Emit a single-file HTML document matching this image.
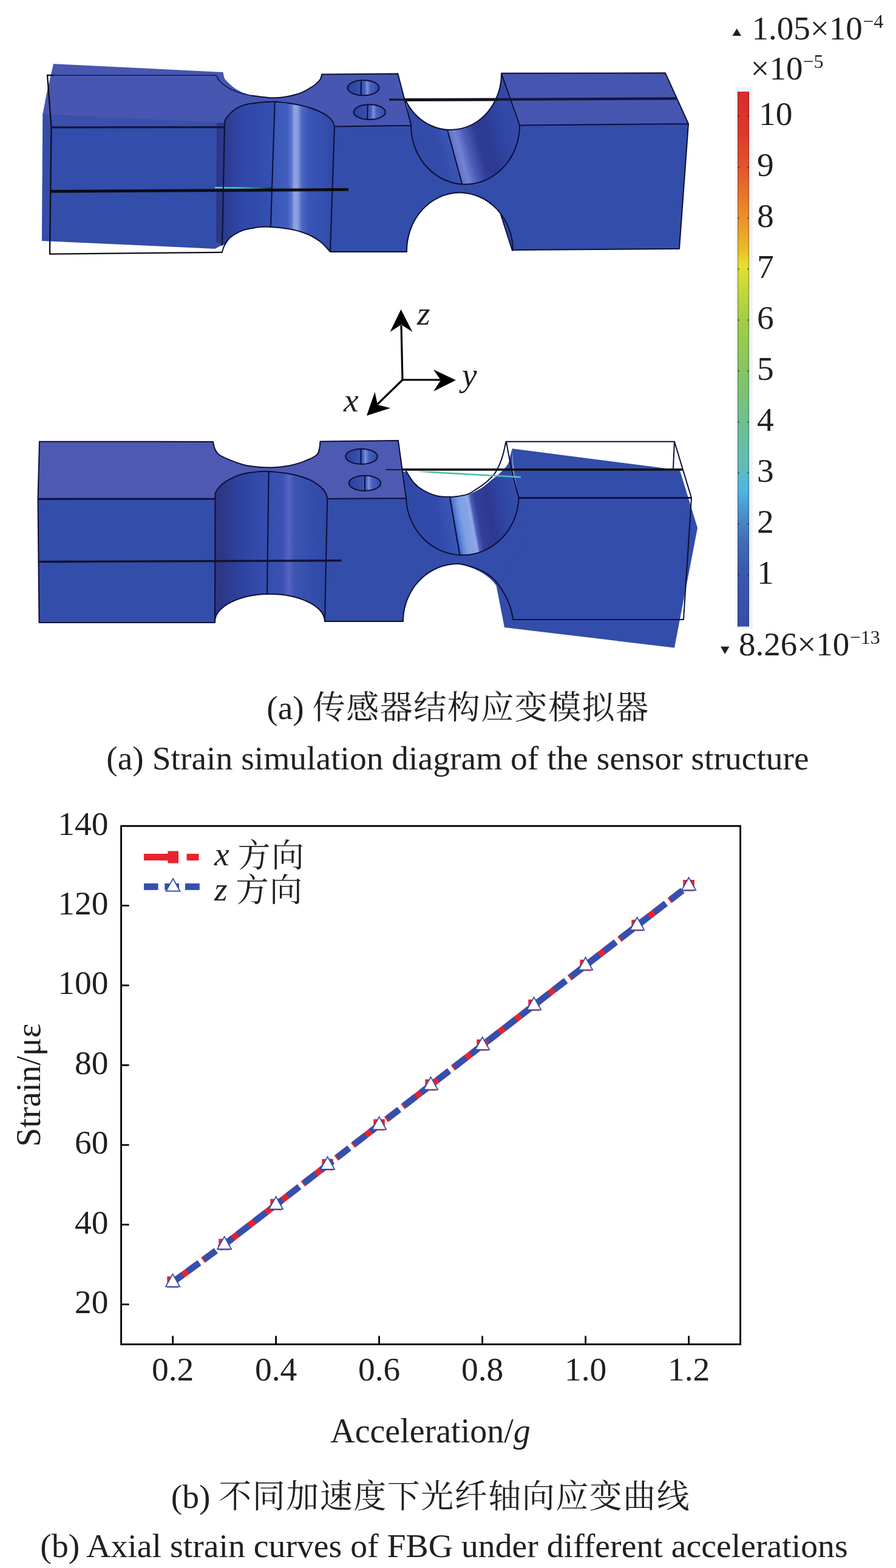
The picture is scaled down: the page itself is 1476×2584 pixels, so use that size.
<!DOCTYPE html>
<html lang="zh">
<head>
<meta charset="utf-8">
<title>Strain simulation and axial strain curves</title>
<style>
html,body{margin:0;padding:0;background:#fff}
body{width:1476px;height:2584px;overflow:hidden}
svg{display:block}
text{font-family:"Liberation Serif","Noto Serif CJK SC",serif;font-size:55.5px;fill:#231f20}
.it{font-style:italic}
.sup{font-size:32px}
.cjk{font-size:54px;letter-spacing:1.5px}
.e{fill:none;stroke:#0c0f36;stroke-width:2;stroke-linecap:round;stroke-linejoin:round}
</style>
</head>
<body>
<svg width="1476" height="2584" viewBox="0 0 1476 2584">
<defs>
<linearGradient id="cylA" gradientUnits="userSpaceOnUse" x1="356" y1="0" x2="552" y2="0">
<stop offset="0" stop-color="#2c3684"/>
<stop offset="0.07" stop-color="#2d3a90"/>
<stop offset="0.2" stop-color="#3046a6"/>
<stop offset="0.49" stop-color="#3451b1"/>
</linearGradient>
<linearGradient id="cylA2" gradientUnits="userSpaceOnUse" x1="356" y1="0" x2="552" y2="0">
<stop offset="0.49" stop-color="#3a57b7"/>
<stop offset="0.60" stop-color="#415fbe"/>
<stop offset="0.635" stop-color="#5a76cd"/>
<stop offset="0.655" stop-color="#8ea2e3"/>
<stop offset="0.685" stop-color="#8a9fe1"/>
<stop offset="0.72" stop-color="#4c68c3"/>
<stop offset="0.78" stop-color="#3855b5"/>
<stop offset="0.9" stop-color="#3450b0"/>
<stop offset="1" stop-color="#2f47a4"/>
</linearGradient>
<linearGradient id="cylB" gradientUnits="userSpaceOnUse" x1="690" y1="260" x2="863.7" y2="212.8">
<stop offset="0" stop-color="#324aa9"/>
<stop offset="0.2" stop-color="#334caa"/>
<stop offset="0.31" stop-color="#3a56b6"/>
<stop offset="0.33" stop-color="#6474cb"/>
<stop offset="0.38" stop-color="#7482d2"/>
<stop offset="0.46" stop-color="#4a5cb8"/>
<stop offset="0.56" stop-color="#2f3c94"/>
<stop offset="0.66" stop-color="#2d3a92"/>
<stop offset="0.8" stop-color="#3046a5"/>
<stop offset="1" stop-color="#344cab"/>
</linearGradient>
<linearGradient id="holeA" x1="0" y1="0" x2="1" y2="0">
<stop offset="0" stop-color="#2f3f9c"/>
<stop offset="0.42" stop-color="#3651b2"/>
<stop offset="0.55" stop-color="#4560be"/>
<stop offset="0.62" stop-color="#7f90da"/>
<stop offset="0.72" stop-color="#4a62be"/>
<stop offset="1" stop-color="#3049a8"/>
</linearGradient>
<linearGradient id="cylC" gradientUnits="userSpaceOnUse" x1="354" y1="0" x2="540" y2="0">
<stop offset="0" stop-color="#2d3580"/>
<stop offset="0.08" stop-color="#2d388a"/>
<stop offset="0.22" stop-color="#2f42a0"/>
<stop offset="0.4" stop-color="#334cad"/>
<stop offset="0.6" stop-color="#3a52b2"/>
<stop offset="0.655" stop-color="#5a64c1"/>
<stop offset="0.7" stop-color="#3e55b3"/>
<stop offset="0.85" stop-color="#334eac"/>
<stop offset="1" stop-color="#3049a6"/>
</linearGradient>
<linearGradient id="cylD" gradientUnits="userSpaceOnUse" x1="680" y1="880" x2="857" y2="848">
<stop offset="0" stop-color="#3048a8"/>
<stop offset="0.25" stop-color="#324aaa"/>
<stop offset="0.37" stop-color="#3856b6"/>
<stop offset="0.40" stop-color="#3a5cbc"/>
<stop offset="0.405" stop-color="#4a6ed0"/>
<stop offset="0.43" stop-color="#6288dc"/>
<stop offset="0.47" stop-color="#7e9fe3"/>
<stop offset="0.525" stop-color="#84a4e6"/>
<stop offset="0.555" stop-color="#94aae8"/>
<stop offset="0.58" stop-color="#4a5cb8"/>
<stop offset="0.62" stop-color="#323f9a"/>
<stop offset="0.73" stop-color="#2d3890"/>
<stop offset="0.86" stop-color="#3046a4"/>
<stop offset="1" stop-color="#344cab"/>
</linearGradient>
<linearGradient id="cbar" x1="0" y1="0" x2="0" y2="1">
<stop offset="0" stop-color="#dc2a2a"/>
<stop offset="0.08" stop-color="#de3a2a"/>
<stop offset="0.142" stop-color="#e3552b"/>
<stop offset="0.237" stop-color="#ec9128"/>
<stop offset="0.29" stop-color="#eab82a"/>
<stop offset="0.325" stop-color="#e6e030"/>
<stop offset="0.37" stop-color="#c4d838"/>
<stop offset="0.425" stop-color="#a4ce44"/>
<stop offset="0.52" stop-color="#86c660"/>
<stop offset="0.62" stop-color="#6cc090"/>
<stop offset="0.70" stop-color="#60bcb8"/>
<stop offset="0.745" stop-color="#50b6de"/>
<stop offset="0.79" stop-color="#4a90cc"/>
<stop offset="0.84" stop-color="#426cb8"/>
<stop offset="0.9" stop-color="#3b58ae"/>
<stop offset="1" stop-color="#354ea8"/>
</linearGradient>
<linearGradient id="teal" gradientUnits="userSpaceOnUse" x1="688" y1="0" x2="860" y2="0">
<stop offset="0" stop-color="#49b999" stop-opacity="0.15"/>
<stop offset="0.12" stop-color="#45b898" stop-opacity="0.9"/>
<stop offset="0.65" stop-color="#49bca6"/>
<stop offset="0.85" stop-color="#4cc0c8"/>
<stop offset="1" stop-color="#4cc4dc"/>
</linearGradient>
<filter id="soft" x="-3%" y="-3%" width="106%" height="106%"><feGaussianBlur stdDeviation="0.55"/></filter>
<linearGradient id="cyanA" gradientUnits="userSpaceOnUse" x1="354" y1="0" x2="447" y2="0">
<stop offset="0" stop-color="#46dadd"/>
<stop offset="0.45" stop-color="#35c4c8"/>
<stop offset="0.8" stop-color="#1f6f74"/>
<stop offset="1" stop-color="#143a40"/>
</linearGradient>

</defs>
<g id="model-top">
<g filter="url(#soft)">
<path d="M70.3,187 L68.9,397 L354,410 L366,404 L371,200 Z" fill="#334daa"/>
<path d="M70,190 L368,198 L368,209 L84,209 Z" fill="#3a50ac"/>
<path d="M88,105.2 L367.5,119.0 C367.8,120.2 368.2,123.8 369.0,126.0 C369.8,128.2 369.0,128.9 372.5,132.5 C376.0,136.1 382.9,143.3 390.0,147.5 C397.1,151.7 404.6,155.2 415.0,157.5 C425.4,159.8 440.0,161.7 452.5,161.3 C465.0,160.9 479.6,158.1 490.0,155.0 C500.4,151.9 508.9,146.2 515.0,142.5 C521.0,138.8 524.0,135.1 526.3,132.5 C528.6,129.9 528.4,128.7 529.0,127.0 C529.6,125.3 529.8,123.2 530.0,122.5 L655.4,121.5 L677.4,206.7 L551.0,208.5 C550.5,207.1 549.9,202.8 547.9,199.8 C545.9,196.9 542.8,193.7 538.8,190.8 C534.8,187.9 530.0,185.2 523.7,182.5 C517.4,179.8 508.7,176.9 501.1,174.9 C493.6,172.9 486.5,171.6 478.4,170.4 C470.3,169.2 460.2,168.1 452.7,167.8 C445.1,167.5 440.2,167.9 433.1,168.4 C426.1,168.9 416.7,169.9 410.4,171.1 C404.1,172.3 399.8,173.7 395.3,175.7 C390.8,177.7 386.7,180.4 383.2,183.2 C379.7,186.0 376.2,190.0 374.2,192.3 C372.2,194.6 371.9,195.4 371.2,197.0 C370.5,198.6 370.2,201.2 370.0,202.0 L70.3,188.5 L76.5,155.4 Z" fill="#4656b0"/>
</g>
<path d="M551,208.5 L677,207 A89.5,97 0 0 0 856,206.5 L1134,204 L1119,410 L845,412 A87.5,96 0 0 0 670,415 L544,415 Z" fill="#334daa"/>
<path d="M824.5,352 L844,413 L846,412 L840,370 Z" fill="#334daa"/>
<path d="M826,120.8 L1096,120.3 L1134,204 L856,206.5 Z" fill="#4656b0"/>
<path d="M357,203 L370.0,202.0 C370.2,201.2 370.5,198.6 371.2,197.0 C371.9,195.4 372.2,194.6 374.2,192.3 C376.2,190.0 379.7,186.0 383.2,183.2 C386.7,180.4 390.8,177.7 395.3,175.7 C399.8,173.7 404.1,172.3 410.4,171.1 C416.7,169.9 426.1,168.9 433.1,168.4 C440.2,167.9 445.1,167.5 452.7,167.8 C460.2,168.1 470.3,169.2 478.4,170.4 C486.5,171.6 493.6,172.9 501.1,174.9 C508.7,176.9 517.4,179.8 523.7,182.5 C530.0,185.2 534.8,187.9 538.8,190.8 C542.8,193.7 545.9,196.9 547.9,199.8 C549.9,202.8 550.5,207.1 551.0,208.5 L544,415 L544.0,415.0 C542.5,413.3 537.7,407.8 535.0,405.0 C532.3,402.2 531.3,401.0 528.0,398.5 C524.7,396.0 519.7,392.5 515.0,390.0 C510.3,387.5 506.2,385.6 500.0,383.5 C493.8,381.4 487.5,379.1 477.5,377.5 C467.5,375.9 449.6,374.2 440.0,373.8 C430.4,373.4 426.7,374.3 420.0,375.3 C413.3,376.3 406.3,377.3 400.0,379.6 C393.7,381.9 386.4,386.2 382.3,388.9 C378.2,391.5 377.4,393.2 375.5,395.5 C373.6,397.8 371.4,401.7 370.6,402.9 L366,404 L356,399 Z" fill="url(#cylA)"/>
<path d="M452.7,167.8 L452.7,167.8 C457.0,168.2 470.3,169.2 478.4,170.4 C486.5,171.6 493.6,172.9 501.1,174.9 C508.7,176.9 517.4,179.8 523.7,182.5 C530.0,185.2 534.8,187.9 538.8,190.8 C542.8,193.7 545.9,196.9 547.9,199.8 C549.9,202.8 550.5,207.1 551.0,208.5 L544,415 L544.0,415.0 C542.5,413.3 537.7,407.8 535.0,405.0 C532.3,402.2 531.3,401.0 528.0,398.5 C524.7,396.0 519.7,392.5 515.0,390.0 C510.3,387.5 506.2,385.6 500.0,383.5 C493.8,381.4 487.5,379.1 477.5,377.5 C467.5,375.9 446.2,374.4 440.0,373.8 L446,373.8 Z" fill="url(#cylA2)"/>
<path d="M669,167 L677,207 A89.5,97 0 0 0 856,206.5 L826,121 A84,93 0 0 1 669,167 Z" fill="url(#cylB)"/>
<ellipse cx="598.5" cy="144.7" rx="26" ry="12.5" fill="url(#holeA)" stroke="#0c0f36" stroke-width="2"/>
<ellipse cx="608.7" cy="184.7" rx="26.2" ry="12.4" fill="url(#holeA)" stroke="#0c0f36" stroke-width="2"/>
<path class="e" d="M595,132.6 L594.6,157 M605.6,172.6 L605.2,197"/>
<path d="M354,309.2 L447,310" stroke="url(#cyanA)" stroke-width="2.4" fill="none"/>
<path class="e" style="stroke-width:1.7;stroke:#12165a" d="M86,124 L356,124 Q361,137 380,147 Q397,155 420,158.5"/>
<path class="e" style="stroke-width:2.3;stroke:#0e0e14;stroke-linejoin:miter;stroke-linecap:butt" d="M88,124 L78,124 L84.5,209 L82,418.6 L365.9,415.8"/>
<path class="e" d="M415.0,157.5 C421.2,158.1 440.0,161.7 452.5,161.3 C465.0,160.9 479.6,158.1 490.0,155.0 C500.4,151.9 508.9,146.2 515.0,142.5 C521.0,138.8 524.0,135.1 526.3,132.5 C528.6,129.9 528.4,128.7 529.0,127.0 C529.6,125.3 529.8,123.2 530.0,122.5 M530,122.5 L655.4,121.5 L677.4,206.7 M551,208.5 L677.4,206.7 M370.0,202.0 C370.2,201.2 370.5,198.6 371.2,197.0 C371.9,195.4 372.2,194.6 374.2,192.3 C376.2,190.0 379.7,186.0 383.2,183.2 C386.7,180.4 390.8,177.7 395.3,175.7 C399.8,173.7 404.1,172.3 410.4,171.1 C416.7,169.9 426.1,168.9 433.1,168.4 C440.2,167.9 445.1,167.5 452.7,167.8 C460.2,168.1 470.3,169.2 478.4,170.4 C486.5,171.6 493.6,172.9 501.1,174.9 C508.7,176.9 517.4,179.8 523.7,182.5 C530.0,185.2 534.8,187.9 538.8,190.8 C542.8,193.7 545.9,196.9 547.9,199.8 C549.9,202.8 550.5,207.1 551.0,208.5 L544,415 M370,202 L366,404 M365.9,415.8 C366.2,414.6 367.2,410.6 368.0,408.5 C368.8,406.4 369.4,405.1 370.6,402.9 C371.9,400.7 373.6,397.8 375.5,395.5 C377.4,393.2 378.2,391.5 382.3,388.9 C386.4,386.2 393.7,381.9 400.0,379.6 C406.3,377.3 413.3,376.3 420.0,375.3 C426.7,374.3 430.4,373.4 440.0,373.8 C449.6,374.2 467.5,375.9 477.5,377.5 C487.5,379.1 493.8,381.4 500.0,383.5 C506.2,385.6 510.3,387.5 515.0,390.0 C519.7,392.5 524.7,396.0 528.0,398.5 C531.3,401.0 532.3,402.2 535.0,405.0 C537.7,407.8 542.5,413.3 544.0,415.0 M452.7,167.8 L446,373 M544,415 L670,415 M677,207 A89.5,97 0 0 0 856,206.5 L826,121 M826,121 A84,93 0 0 1 669,167 M737.5,216 L761,302.5 M826,120.8 L1096,120.3 L1134,204 L1119,410 L845,412 M856,206.5 L1134,204 M845,412 A87.5,96 0 0 0 670,415 M824.5,352 L844,413"/>
<path d="M84,209.9 L370,209.6" stroke="#14163f" stroke-width="3.3" fill="none"/>
<path d="M83,315.4 L574,312.4" stroke="#0c0c10" stroke-width="4.8" fill="none"/>
<path d="M641,164.2 L668,164.2" stroke="#14141f" stroke-width="3.2" fill="none"/>
<path d="M666,164.6 L820,163.9" stroke="#14141f" stroke-width="5" fill="none"/>
<path d="M820,163.9 L1114,162.4" stroke="#14163c" stroke-width="4.4" fill="none"/>
</g>
<g id="model-bottom">
<g filter="url(#soft)">
<path d="M843.5,739.2 L1075,769 L1120,775 L1149,870 L1111,1067.5 L831,1034 L817.5,965 L800,900 L854,820 L846,775 Z" fill="#334daa"/>
</g>
<path d="M62.5,820 L355,819 L355,1026 L64.5,1026 Z" fill="#334daa"/>
<path d="M539,822 L669,821 A92.8,97.5 0 0 0 854.5,820 L860,900 L817.5,965 Q800,940 755,929 A91,95 0 0 0 664,1024 L535,1024 Z" fill="#334daa"/>
<path d="M65,727.5 L351.0,728.0 C351.5,730.0 352.2,736.3 354.0,740.0 C355.8,743.7 356.7,746.6 361.9,750.0 C367.1,753.4 377.6,757.7 385.3,760.6 C393.0,763.5 398.2,765.8 408.0,767.4 C417.8,769.0 432.9,770.4 444.2,770.4 C455.5,770.4 466.7,769.0 476.0,767.4 C485.3,765.8 492.4,763.5 500.0,760.6 C507.6,757.7 517.0,753.4 521.3,750.0 C525.6,746.6 525.0,743.8 526.0,740.0 C527.0,736.2 527.2,729.6 527.5,727.5 L656,726 L669,821 L539.2,821.5 C538.7,819.9 538.1,815.0 536.4,811.9 C534.7,808.8 532.6,806.2 528.8,802.9 C525.0,799.6 520.0,795.4 513.7,792.3 C507.4,789.1 498.6,786.1 491.0,784.0 C483.4,781.9 476.4,780.7 468.4,779.5 C460.3,778.3 450.2,777.2 442.7,776.9 C435.1,776.6 430.2,776.8 423.1,777.5 C416.1,778.2 406.7,779.5 400.4,781.0 C394.1,782.5 390.3,784.0 385.3,786.3 C380.3,788.6 374.2,791.8 370.2,794.6 C366.2,797.4 363.6,800.0 361.1,802.9 C358.6,805.8 356.2,808.9 355.1,811.9 C354.0,814.9 354.5,819.5 354.4,821.0 L62.5,822 Z" fill="#4d59b2"/>
<path d="M354.4,821 L354.4,821.0 C354.5,819.5 354.0,814.9 355.1,811.9 C356.2,808.9 358.6,805.8 361.1,802.9 C363.6,800.0 366.2,797.4 370.2,794.6 C374.2,791.8 380.3,788.6 385.3,786.3 C390.3,784.0 394.1,782.5 400.4,781.0 C406.7,779.5 416.1,778.2 423.1,777.5 C430.2,776.8 435.1,776.6 442.7,776.9 C450.2,777.2 460.3,778.3 468.4,779.5 C476.4,780.7 483.4,781.9 491.0,784.0 C498.6,786.1 507.4,789.1 513.7,792.3 C520.0,795.4 525.0,799.6 528.8,802.9 C532.6,806.2 534.7,808.8 536.4,811.9 C538.1,815.0 538.7,819.9 539.2,821.5 L535,1024 A90.5,46 0 0 0 354,1026 Z" fill="url(#cylC)"/>
<path d="M664,777 L669,821 A92.8,97.5 0 0 0 854.5,820 L845,775 L843.5,739.2 L843.5,739.2 C843.1,740.7 842.4,743.6 841.2,748.0 C840.0,752.4 839.3,760.0 836.4,765.3 C833.5,770.5 828.5,775.0 823.8,779.5 C819.1,784.0 813.3,788.0 808.0,792.2 C802.7,796.4 798.8,800.8 792.2,804.8 C785.6,808.8 776.4,813.5 768.5,815.9 C760.6,818.3 752.7,818.8 744.8,819.0 C736.9,819.2 729.0,819.2 721.1,817.4 C713.2,815.6 704.0,811.7 697.4,808.0 C690.8,804.3 686.3,800.6 681.6,795.3 C676.9,790.0 671.1,779.5 669.0,776.4 L667.5,777.5 Z" fill="url(#cylD)"/>
<ellipse cx="595.5" cy="752.3" rx="26.2" ry="12.6" fill="url(#holeA)" stroke="#0c0f36" stroke-width="2"/>
<ellipse cx="601" cy="796.3" rx="26.2" ry="12.6" fill="url(#holeA)" stroke="#0c0f36" stroke-width="2"/>
<path class="e" d="M594.5,740.5 L594.5,763.5 M601,784.5 L601,807.5"/>
<path class="e" d="M65,727.5 L351.0,728.0 C351.5,730.0 352.2,736.3 354.0,740.0 C355.8,743.7 356.7,746.6 361.9,750.0 C367.1,753.4 377.6,757.7 385.3,760.6 C393.0,763.5 398.2,765.8 408.0,767.4 C417.8,769.0 432.9,770.4 444.2,770.4 C455.5,770.4 466.7,769.0 476.0,767.4 C485.3,765.8 492.4,763.5 500.0,760.6 C507.6,757.7 517.0,753.4 521.3,750.0 C525.6,746.6 525.0,743.8 526.0,740.0 C527.0,736.2 527.2,729.6 527.5,727.5 L656,726 L669,821 M65,727.5 L62.5,822 L64.5,1026 L354,1026 M354.4,821.0 C354.5,819.5 354.0,814.9 355.1,811.9 C356.2,808.9 358.6,805.8 361.1,802.9 C363.6,800.0 366.2,797.4 370.2,794.6 C374.2,791.8 380.3,788.6 385.3,786.3 C390.3,784.0 394.1,782.5 400.4,781.0 C406.7,779.5 416.1,778.2 423.1,777.5 C430.2,776.8 435.1,776.6 442.7,776.9 C450.2,777.2 460.3,778.3 468.4,779.5 C476.4,780.7 483.4,781.9 491.0,784.0 C498.6,786.1 507.4,789.1 513.7,792.3 C520.0,795.4 525.0,799.6 528.8,802.9 C532.6,806.2 534.7,808.8 536.4,811.9 C538.1,815.0 538.7,819.9 539.2,821.5 L535,1024 M354.4,821 L354,1026 A90.5,46 0 0 1 535,1024 L664,1024 M442.6,777 L440,979 M539,822 L669,821 M669,821 A92.8,97.5 0 0 0 854.5,820 M741,820 L757.5,915.5 M664,1024 A91,95 0 0 1 755,929 Q800,936 820,962 Q842,992 845,1021 L1126,1021 L1139,820.5 L1111,727.8 L834,727.8 M855,820.5 L1139,820.5 M1111,727.8 L1109,772 M834,727.8 Q843,780 854.5,820 M833.3,728.2 C832.5,731.8 830.4,743.0 828.5,749.5 C826.6,756.0 824.6,761.6 822.2,766.9 C819.8,772.2 818.0,776.4 814.3,781.1 C810.6,785.8 805.1,791.1 800.1,795.3 C795.1,799.5 789.6,803.1 784.3,806.4 C779.0,809.7 775.1,813.0 768.5,815.1 C761.9,817.2 748.8,818.4 744.8,819.0 M669.0,776.4 C671.1,779.5 676.9,790.0 681.6,795.3 C686.3,800.6 690.8,804.3 697.4,808.0 C704.0,811.7 713.2,815.6 721.1,817.4 C729.0,819.2 740.8,818.7 744.8,819.0"/>
<path d="M62.5,822.3 L354,822.1" stroke="#0b0e40" stroke-width="2.9" fill="none"/>
<path d="M855,820.4 L1139,820.4" stroke="#0b0e40" stroke-width="2.6" fill="none"/>
<path d="M64,925.8 L562.5,923.7" stroke="#12142e" stroke-width="3.5" fill="none"/>
<path d="M688,777 L858,786.3" stroke="url(#teal)" stroke-width="2.6" fill="none"/>
<path d="M636,774 L664,774" stroke="#0a0b18" stroke-width="1.6" fill="none"/>
<path d="M662,773.9 L1125,773.9" stroke="#101014" stroke-width="3.9" fill="none"/>
</g>
<g id="triad" fill="#000" stroke="none">
<path d="M663,626 L661,536 M663,626 L727,626 M663,626 L622,666" stroke="#000" stroke-width="3.2" fill="none"/>
<path d="M660.5,510 L679.5,547 L661,535 L642.5,547 Z"/>
<path d="M751,626.5 L714,609 L726,626.5 L714,645 Z"/>
<path d="M604,685 L617.5,646 L622,667 L643,672.5 Z"/>
</g>
<text class="it" x="687" y="534.5">z</text>
<text class="it" x="761" y="635.5">y</text>
<text class="it" x="566" y="678">x</text>
<g id="colorbar">
<rect x="1212" y="144" width="28" height="892" fill="#eef2fb"/>
<rect x="1215" y="151" width="19" height="881.5" fill="url(#cbar)"/>
<path d="M1215.6,151 V1032.5 M1233.4,151 V1032.5" stroke="#1a1a2a" stroke-opacity="0.38" stroke-width="1.3" fill="none"/>
<path d="M1215,947.5 h3 M1231,947.5 h3 M1215,863.5 h3 M1231,863.5 h3 M1215,779.5 h3 M1231,779.5 h3 M1215,695.5 h3 M1231,695.5 h3 M1215,611.5 h3 M1231,611.5 h3 M1215,527.5 h3 M1231,527.5 h3 M1215,443.5 h3 M1231,443.5 h3 M1215,359.5 h3 M1231,359.5 h3 M1215,275.5 h3 M1231,275.5 h3 M1215,191.5 h3 M1231,191.5 h3" stroke="#1a1a1a" stroke-opacity="0.55" stroke-width="2" fill="none"/>
<text x="1247" y="962.0">1</text>
<text x="1247" y="878.0">2</text>
<text x="1247" y="794.0">3</text>
<text x="1247" y="710.0">4</text>
<text x="1247" y="626.0">5</text>
<text x="1247" y="542.0">6</text>
<text x="1247" y="458.0">7</text>
<text x="1247" y="374.0">8</text>
<text x="1247" y="290.0">9</text>
<text x="1250" y="206.0">10</text>
<path d="M1206.5,59 L1221,59 L1213.7,47 Z" fill="#231f20"/>
<text x="1238.5" y="64.5" style="font-size:55px">1.05×10<tspan class="sup" dy="-19" dx="0.5">−4</tspan></text>
<text x="1236.5" y="130.5" style="font-size:55px">×10<tspan class="sup" dy="-19" dx="0">−5</tspan></text>
<path d="M1187,1065.5 L1201.5,1065.5 L1194.2,1078 Z" fill="#231f20"/>
<text x="1217" y="1079.5" style="font-size:55px">8.26×10<tspan class="sup" dy="-19" dx="0.5">−13</tspan></text>
</g>
<text x="754.5" y="1185" text-anchor="middle">(a) <tspan class="cjk">传感器结构应变模拟器</tspan></text>
<text x="754" y="1267.5" text-anchor="middle">(a) Strain simulation diagram of the sensor structure</text>
<text x="709.5" y="2485" text-anchor="middle">(b) <tspan class="cjk">不同加速度下光纤轴向应变曲线</tspan></text>
<text x="731.5" y="2566" text-anchor="middle" style="font-size:55.75px">(b) Axial strain curves of FBG under different accelerations</text>
<g id="chart">
<path d="M284.6,2112.9 L327.4,2081.8 M334.2,2076.8 L354.8,2061.8 M361.6,2056.9 L369.6,2051.1 L454.6,1985.3 L492.1,1956.3 M498.9,1951.1 L539.6,1919.6 L547.0,1913.9 M553.8,1908.6 L574.5,1892.7 M581.2,1887.4 L624.6,1853.9 L629.4,1850.2 M636.1,1845.0 L656.8,1829.0 M663.6,1823.7 L709.6,1788.2 L739.2,1765.3 M746.0,1760.0 L794.6,1722.4 L879.6,1656.7 L931.3,1616.7 M938.1,1611.5 L964.6,1591.0 L1013.6,1553.0 M1020.4,1547.8 L1049.6,1525.2 L1096.0,1489.4 M1102.8,1484.1 L1123.5,1468.1 M1130.2,1462.9 L1134.6,1459.5" stroke="#e8232d" stroke-width="10.5" fill="none"/>
<rect x="275.3" y="2103.4" width="18.6" height="18.6" fill="#e8232d"/>
<rect x="360.3" y="2041.6" width="18.6" height="18.6" fill="#e8232d"/>
<rect x="445.3" y="1975.8" width="18.6" height="18.6" fill="#e8232d"/>
<rect x="530.3" y="1910.1" width="18.6" height="18.6" fill="#e8232d"/>
<rect x="615.3" y="1844.4" width="18.6" height="18.6" fill="#e8232d"/>
<rect x="700.3" y="1778.7" width="18.6" height="18.6" fill="#e8232d"/>
<rect x="785.3" y="1712.9" width="18.6" height="18.6" fill="#e8232d"/>
<rect x="870.3" y="1647.2" width="18.6" height="18.6" fill="#e8232d"/>
<rect x="955.3" y="1581.5" width="18.6" height="18.6" fill="#e8232d"/>
<rect x="1040.3" y="1515.7" width="18.6" height="18.6" fill="#e8232d"/>
<rect x="1125.3" y="1450.0" width="18.6" height="18.6" fill="#e8232d"/>
<path d="M284.6,2112.9 L300.9,2101.0 M308.8,2095.3 L328.4,2081.1 M336.2,2075.4 L355.8,2061.1 M363.6,2055.4 L369.6,2051.1 L383.2,2040.5 M391.1,2034.4 L410.7,2019.3 M418.6,2013.2 L438.2,1998.1 M446.0,1992.0 L454.6,1985.3 L465.6,1976.8 M473.4,1970.8 L493.1,1955.6 M500.9,1949.5 L520.5,1934.4 M528.4,1928.3 L539.6,1919.6 L548.0,1913.2 M555.8,1907.1 L575.4,1891.9 M583.2,1885.9 L602.9,1870.7 M610.7,1864.6 L624.6,1853.9 L630.3,1849.5 M638.1,1843.4 L657.8,1828.3 M665.6,1822.2 L685.2,1807.0 M693.0,1801.0 L709.6,1788.2 L712.6,1785.8 M720.5,1779.7 L740.1,1764.6 M748.0,1758.5 L767.6,1743.3 M775.4,1737.3 L794.6,1722.4 L795.0,1722.1 M802.8,1716.0 L822.4,1700.9 M830.3,1694.8 L849.9,1679.7 M857.8,1673.6 L877.4,1658.4 M885.2,1652.4 L904.8,1637.2 M912.6,1631.1 L932.2,1616.0 M940.1,1609.9 L959.7,1594.8 M967.5,1588.7 L987.1,1573.5 M995.0,1567.5 L1014.6,1552.3 M1022.4,1546.2 L1042.0,1531.1 M1049.9,1525.0 L1069.5,1509.8 M1077.3,1503.8 L1096.9,1488.6 M1104.8,1482.5 L1124.4,1467.4 M1132.2,1461.3 L1134.6,1459.5" stroke="#3450ae" stroke-width="10.5" fill="none"/>
<path d="M284.6,2099.6 L296.2,2120.3 L273.0,2120.3 Z" fill="#fff" stroke="#3450ae" stroke-width="1.8" stroke-linejoin="miter"/>
<path d="M369.6,2037.8 L381.2,2058.5 L358.0,2058.5 Z" fill="#fff" stroke="#3450ae" stroke-width="1.8" stroke-linejoin="miter"/>
<path d="M454.6,1972.0 L466.2,1992.7 L443.0,1992.7 Z" fill="#fff" stroke="#3450ae" stroke-width="1.8" stroke-linejoin="miter"/>
<path d="M539.6,1906.3 L551.2,1927.0 L528.0,1927.0 Z" fill="#fff" stroke="#3450ae" stroke-width="1.8" stroke-linejoin="miter"/>
<path d="M624.6,1840.6 L636.2,1861.3 L613.0,1861.3 Z" fill="#fff" stroke="#3450ae" stroke-width="1.8" stroke-linejoin="miter"/>
<path d="M709.6,1774.9 L721.2,1795.6 L698.0,1795.6 Z" fill="#fff" stroke="#3450ae" stroke-width="1.8" stroke-linejoin="miter"/>
<path d="M794.6,1709.1 L806.2,1729.8 L783.0,1729.8 Z" fill="#fff" stroke="#3450ae" stroke-width="1.8" stroke-linejoin="miter"/>
<path d="M879.6,1643.4 L891.2,1664.1 L868.0,1664.1 Z" fill="#fff" stroke="#3450ae" stroke-width="1.8" stroke-linejoin="miter"/>
<path d="M964.6,1577.7 L976.2,1598.4 L953.0,1598.4 Z" fill="#fff" stroke="#3450ae" stroke-width="1.8" stroke-linejoin="miter"/>
<path d="M1049.6,1511.9 L1061.2,1532.6 L1038.0,1532.6 Z" fill="#fff" stroke="#3450ae" stroke-width="1.8" stroke-linejoin="miter"/>
<path d="M1134.6,1446.2 L1146.2,1466.9 L1123.0,1466.9 Z" fill="#fff" stroke="#3450ae" stroke-width="1.8" stroke-linejoin="miter"/>
<rect x="199.6" y="1361.2" width="1019.9999999999999" height="854.2" fill="none" stroke="#000" stroke-width="2.9"/>
<path d="M199.6,2149.7 h13 M199.6,2018.2 h13 M199.6,1886.8 h13 M199.6,1755.3 h13 M199.6,1623.8 h13 M199.6,1492.4 h13 M284.6,2215.4 v-14 M454.6,2215.4 v-14 M624.6,2215.4 v-14 M794.6,2215.4 v-14 M964.6,2215.4 v-14 M1134.6,2215.4 v-14" stroke="#000" stroke-width="2.8" fill="none"/>
<text x="178.5" y="2164.3" text-anchor="end">20</text>
<text x="178.5" y="2032.8" text-anchor="end">40</text>
<text x="178.5" y="1901.3" text-anchor="end">60</text>
<text x="178.5" y="1769.9" text-anchor="end">80</text>
<text x="178.5" y="1638.4" text-anchor="end">100</text>
<text x="178.5" y="1507.0" text-anchor="end">120</text>
<text x="178.5" y="1375.5" text-anchor="end">140</text>
<text x="284.6" y="2275" text-anchor="middle">0.2</text>
<text x="454.6" y="2275" text-anchor="middle">0.4</text>
<text x="624.6" y="2275" text-anchor="middle">0.6</text>
<text x="794.6" y="2275" text-anchor="middle">0.8</text>
<text x="964.6" y="2275" text-anchor="middle">1.0</text>
<text x="1134.6" y="2275" text-anchor="middle">1.2</text>
<text x="709" y="2377.3" text-anchor="middle" style="font-size:56px">Acceleration/<tspan class="it">g</tspan></text>
<text transform="translate(66.4,1788.2) rotate(-90)" text-anchor="middle" style="font-size:56.1px">Strain/με</text>
<path d="M237,1412.5 H277 M307.5,1412.5 H327.5" stroke="#e8232d" stroke-width="11" fill="none"/>
<rect x="276.5" y="1402.5" width="17.5" height="20" fill="#e8232d"/>
<path d="M237,1461.3 H260.5 M271.3,1461.3 H295 M305,1461.3 H328.8" stroke="#3450ae" stroke-width="11" fill="none"/>
<path d="M285,1448 L296.5,1468.5 L273.5,1468.5 Z" fill="#fff" stroke="#3450ae" stroke-width="1.8"/>
<text x="353" y="1426"><tspan class="it">x</tspan> <tspan class="cjk" dy="2.5">方向</tspan></text>
<text x="353" y="1483.5"><tspan class="it">z</tspan> <tspan class="cjk" dy="2.5">方向</tspan></text>
</g>
</svg>
</body>
</html>
